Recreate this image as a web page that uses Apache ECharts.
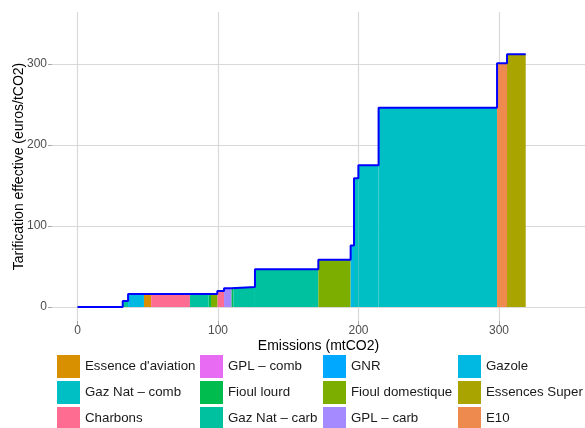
<!DOCTYPE html>
<html>
<head>
<meta charset="utf-8">
<script src="https://cdn.jsdelivr.net/npm/echarts@6/dist/echarts.min.js"></script>
<style>html,body{margin:0;padding:0;background:#fff}#c{width:585px;height:428px}</style>
</head>
<body>
<div id="c"></div>
<script>
// ---- Data ----
const products = ["Essence d'aviation", "Gaz Nat – comb", "Charbons",
                  "GPL – comb", "Fioul lourd", "Gaz Nat – carb",
                  "GNR", "Fioul domestique", "GPL – carb",
                  "Gazole", "Essences Super", "E10"];
const productColors = ["#D89000", "#00BFC4", "#FF6C91",
                       "#E76BF3", "#00BB4E", "#00C19F",
                       "#00A9FF", "#7CAE00", "#A58AFF",
                       "#00B9E3", "#A9A400", "#EE8A4E"];
// emission segments (mtCO2) and effective price (euros/tCO2)
const segStart   = [0,    32.2, 36.0, 47.3, 52.4, 80.0, 93.3, 95.0, 99.5, 104.3, 109.5, 110.9, 126.3, 171.4, 194.4, 196.8, 199.9, 214.3, 298.6, 305.7];
const segEnd     = [32.2, 36.0, 47.3, 52.4, 80.0, 93.3, 95.0, 99.5, 104.3, 109.5, 110.9, 126.3, 171.4, 194.4, 196.8, 199.9, 214.3, 298.6, 305.7, 319.0];
const segPrice   = [0,    7.5,  16,   16,   16,   16,   16,   16,   19.8, 23,    23,    24.7,  46.5,  58.4,  76,    159,   175,   246,   301,   312];
const segProduct = [null, "Gaz Nat – carb", "Gazole", "Essence d'aviation", "Charbons", "Gaz Nat – carb",
                    "Fioul lourd", "Fioul domestique", "Charbons", "GPL – carb", "Fioul lourd", "Gaz Nat – carb",
                    "Gaz Nat – carb", "Fioul domestique", "Gazole", "Gaz Nat – comb", "Gaz Nat – comb",
                    "Gaz Nat – comb", "E10", "Essences Super"];
const xTicks = [0, 100, 200, 300];
const yTicks = [0, 100, 200, 300];
const legendColumns = [
  ["Essence d'aviation", "Gaz Nat – comb", "Charbons"],
  ["GPL – comb", "Fioul lourd", "Gaz Nat – carb"],
  ["GNR", "Fioul domestique", "GPL – carb"],
  ["Gazole", "Essences Super", "E10"]
];

// ---- Chart ----
const FONT = "'Liberation Sans', Arial, sans-serif";
const chart = echarts.init(document.getElementById('c'), null, {renderer: 'canvas'});

function renderRect(params, api) {
  const p0 = api.coord([api.value(0), api.value(2)]);
  const p1 = api.coord([api.value(1), 0]);
  return {
    type: 'rect',
    shape: {x: p0[0], y: p0[1], width: p1[0] - p0[0], height: p1[1] - p0[1]},
    style: {fill: api.visual('color')}
  };
}

const rectSeries = products.map((name, i) => {
  const data = [];
  for (let k = 0; k < segStart.length; k++) {
    if (segProduct[k] === name) data.push([segStart[k], segEnd[k], segPrice[k]]);
  }
  return {
    name: name,
    type: 'custom',
    renderItem: renderRect,
    encode: {x: [0, 1], y: 2},
    itemStyle: {color: productColors[i]},
    data: data,
    z: 2,
    silent: true
  };
});

const linePoints = segStart.map((s, k) => [s, segPrice[k]]);
linePoints.push([segEnd[segEnd.length - 1], segPrice[segPrice.length - 1]]);

const gridColor = '#D9D9D9';
const colLeft = [57, 200, 323, 458];
const rowTop = [355, 381, 407];

const legends = [];
legendColumns.forEach((names, c) => {
  names.forEach((nm, r) => {
    legends.push({
      data: [nm],
      orient: 'vertical',
      left: colLeft[c],
      top: rowTop[r],
      padding: 0,
      itemWidth: 23,
      itemHeight: 23,
      icon: 'rect',
      selectedMode: false,
      textStyle: {fontFamily: FONT, fontSize: 13.3, color: '#1A1A1A'}
    });
  });
});

const option = {
  animation: false,
  backgroundColor: '#ffffff',
  grid: {left: 52, right: 0, top: 12, bottom: 107, containLabel: false, outerBoundsMode: 'none'},
  xAxis: {
    type: 'value', min: -18.15, max: 361.2,
    name: 'Emissions (mtCO2)', nameLocation: 'middle', nameGap: 18, nameMoveOverlap: false,
    nameTextStyle: {fontFamily: FONT, fontSize: 14, color: '#000'},
    axisLine: {show: false, onZero: false},
    axisTick: {show: true, length: 4, lineStyle: {color: '#A8A8A8', width: 1}, customValues: xTicks},
    axisLabel: {fontFamily: FONT, fontSize: 12, color: '#4D4D4D', margin: 4, customValues: xTicks},
    splitLine: {show: true, lineStyle: {color: gridColor, width: 1.2}}
  },
  yAxis: {
    type: 'value', min: -17.3, max: 364.2,
    name: 'Tarification effective (euros/tCO2)', nameLocation: 'middle', nameGap: 26, nameRotate: 90, nameMoveOverlap: false,
    nameTextStyle: {fontFamily: FONT, fontSize: 14, color: '#000'},
    axisLine: {show: false, onZero: false},
    axisTick: {show: true, length: 4, lineStyle: {color: '#A8A8A8', width: 1}, customValues: yTicks},
    axisLabel: {fontFamily: FONT, fontSize: 12, color: '#4D4D4D', margin: 5, customValues: yTicks},
    splitLine: {show: true, lineStyle: {color: gridColor, width: 1.2}}
  },
  legend: legends,
  series: rectSeries.concat([{
    name: 'tarif',
    type: 'line',
    step: 'end',
    symbol: 'none',
    data: linePoints,
    lineStyle: {color: '#0000FF', width: 2},
    z: 5,
    silent: true
  }])
};
chart.setOption(option);
</script>
</body>
</html>
